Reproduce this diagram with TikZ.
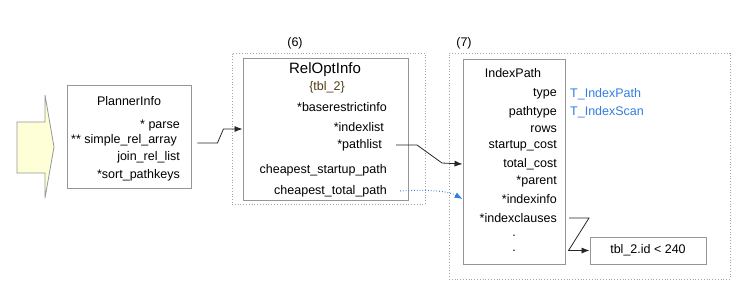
\documentclass[tikz,border=0pt]{standalone}
\usepackage{fontspec}
\setmainfont{Liberation Sans}
\usetikzlibrary{calc, arrows.meta}

\definecolor{boxgray}{RGB}{150,150,150}
\definecolor{grpgray}{RGB}{165,165,165}
\definecolor{linkblue}{RGB}{50,125,225}
\definecolor{relbrown}{RGB}{80,62,20}
\definecolor{inyellow}{RGB}{255,255,215}

\begin{document}
\begin{tikzpicture}[x=1pt, y=-1pt,
    box/.style={draw=boxgray, rectangle, line width=0.9pt, inner sep=0pt},
    group/.style={draw=grpgray, rectangle, dotted, line width=0.8pt, inner sep=0pt},
    field/.style={inner sep=0pt, anchor=east, font=\fontsize{12.5}{14}\selectfont},
    plain/.style={inner sep=0pt, font=\fontsize{12.5}{14}\selectfont},
    link/.style={-{Latex[length=8pt, width=6pt]}, line width=0.8pt, black!85}]

    \useasboundingbox (0,0) rectangle (752,301);

    % Incoming arrow
    \draw[boxgray, fill=inyellow, line width=0.8pt]
        (17,122) -- (45,122) -- (45,95) -- (54,147) -- (45,198) -- (45,173) -- (17,173) -- cycle;

    % Draw groups and boxes
    \node[group, minimum width=193pt, minimum height=151pt] (grp6) at (328.5,128.5) {};
    \node[group, minimum width=281pt, minimum height=226pt] (grp7) at (589.5,166) {};
    \node[plain] (lab6) at (295,43) {(6)};
    \node[plain] (lab7) at (464,43) {(7)};

    \node[box, minimum width=124pt, minimum height=103pt] (planner) at (129,136.5) {};
    \node[box, minimum width=165pt, minimum height=142pt] (rel) at (325.5,129) {};
    \node[box, minimum width=102pt, minimum height=205pt] (idxpath) at (514,161.5) {};
    \node[box, minimum width=116pt, minimum height=27pt, plain] (cond) at (648,250.5) {tbl\_2.id < 240};

    % PlannerInfo fields
    \node[plain] (plannertitle) at (129,101) {PlannerInfo};
    \node[field] (parse) at (180,125) {* parse};
    \node[field] (simplerel) at (177,140) {** simple\_rel\_array};
    \node[field] (joinrel) at (180,157) {join\_rel\_list};
    \node[field] (sortkeys) at (180,175) {*sort\_pathkeys};

    % RelOptInfo fields
    \node[plain, font=\fontsize{15}{17}\selectfont] (reltitle) at (325,70) {RelOptInfo};
    \node[plain, text=relbrown] (relname) at (327,87) {\{tbl\_2\}};
    \node[field] (baserestrict) at (387,107) {*baserestrictinfo};
    \node[field] (indexlist) at (384,127) {*indexlist};
    \node[field] (pathlist) at (382,145) {*pathlist};
    \node[field] (startpath) at (387,170) {cheapest\_startup\_path};
    \node[field] (totalpath) at (387,191) {cheapest\_total\_path};

    % IndexPath fields
    \node[plain] (idxtitle) at (513,73) {IndexPath};
    \node[field] (type) at (557,94) {type};
    \node[field] (pathtype) at (557,112) {pathtype};
    \node[field] (rows) at (557,129) {rows};
    \node[field] (startcost) at (557,146) {startup\_cost};
    \node[field] (totalcost) at (557,164) {total\_cost};
    \node[field] (parent) at (557,181) {*parent};
    \node[field] (indexinfo) at (557,199) {*indexinfo};
    \node[field] (idxclauses) at (557,218) {*indexclauses};
    \node[plain] (dot1) at (514,236) {.};
    \node[plain] (dot2) at (514,251) {.};
    \node[field, anchor=west, text=linkblue] (typeval) at (570,94) {T\_IndexPath};
    \node[field, anchor=west, text=linkblue] (pathtypeval) at (570,112) {T\_IndexScan};

    % Draw arrows
    \draw[link] ($(planner.east)+(6,6.5)$) -- ++(20,0) -- ++(6,-14) -- (rel.west);
    \draw[link] ($(pathlist.east)+(14,0)$) -- ++(21,0) -- ++(25,18) -- (idxpath.west |- totalcost);
    \draw[link, linkblue, dotted, line width=1pt] ($(totalpath.east)+(13,0)$)
        .. controls (435,189) and (450,192) .. (idxpath.west |- indexinfo);
    \draw[link] ($(idxclauses.east)+(12,0)$) -- ++(20,0) -- ($(cond.west)+(-21,0)$) -- (cond.west);

\end{tikzpicture}
\end{document}
